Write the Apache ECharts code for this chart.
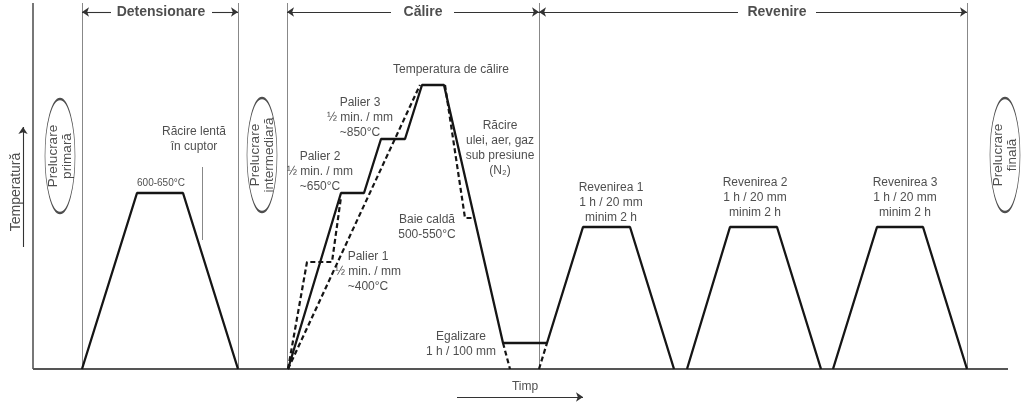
<!DOCTYPE html>
<html>
<head>
<meta charset="utf-8">
<script src="https://cdn.jsdelivr.net/npm/echarts@6/dist/echarts.min.js"></script>
<style>html,body{margin:0;padding:0;background:#fff;}#c{width:1024px;height:402px;}</style>
</head>
<body>
<div id="c"></div>
<script>
// Time (x) and temperature above the time axis (y).
const phaseBoundaries = [33, 82, 238, 287, 539, 967];
const boundaryTop = 366;
const axisEnd = 1008;

const detensionareCurve = [[82,0],[137,176],[183,176],[238,0]];
const calireRevenire1Curve = [[288,0],[341,176],[364,176],[381,230],[405,230],[422,284],[444,284],[503,26],[547,26],[583,142],[630,142],[674,0]];
const revenire2Curve = [[687,0],[730,142],[777,142],[821,0]];
const revenire3Curve = [[833,0],[877,142],[923,142],[967,0]];

const dashStepped = [[288,0],[307,107],[332,107],[341,172]];
const dashStraight = [[288,0],[420,284]];
const dashQuench = [[445,284],[465,151],[475,151]];
const dashEgal1 = [[503,26],[510,0]];
const dashEgal2 = [[539,0],[547,26]];

const coolingPointer = [[202,202],[202,129]];

const headers = [
  {name:'Detensionare', x:161, left:[111,82], right:[212,238]},
  {name:'Călire', x:423, left:[391,287], right:[454,539]},
  {name:'Revenire', x:777, left:[738,539], right:[816,967]}
];
const headerY = 357;

const labels = [
  ['600-650°C', 161, 186, 10],
  ['Răcire lentă\nîn cuptor', 194, 230, 12],
  ['Temperatura de călire', 451, 299, 12],
  ['Palier 3\n½ min. / mm\n~850°C', 360, 251, 12],
  ['Palier 2\n½ min. / mm\n~650°C', 320, 197, 12],
  ['Palier 1\n½ min. / mm\n~400°C', 368, 97, 12],
  ['Răcire\nulei, aer, gaz\nsub presiune\n(N₂)', 500, 221, 12],
  ['Baie caldă\n500-550°C', 427, 142, 12],
  ['Egalizare\n1 h / 100 mm', 461, 25, 12],
  ['Revenirea 1\n1 h / 20 mm\nminim 2 h', 611, 166, 12],
  ['Revenirea 2\n1 h / 20 mm\nminim 2 h', 755, 171, 12],
  ['Revenirea 3\n1 h / 20 mm\nminim 2 h', 905, 171, 12],
  ['Timp', 525, -18, 12]
];

const ellipses = [
  ['Prelucrare\nprimară', 60, 213],
  ['Prelucrare\nintermediară', 262, 214],
  ['Prelucrare\nfinală', 1005, 214]
];

const yAxisTitle = ['Temperatură', 16, 177];
const yArrow = [[23,122],[23,242]];
const xArrow = [[457,-28],[583,-28]];

const FONT = "'Liberation Sans', Arial, sans-serif";

const chart = echarts.init(document.getElementById('c'), null, {renderer:'canvas'});

const series = [];

// Phase boundary verticals and baseline
series.push({
  type:'lines', coordinateSystem:'cartesian2d', silent:true, symbol:'none',
  lineStyle:{color:'#555', width:1.6, curveness:0, opacity:1},
  data:[{coords:[[phaseBoundaries[0],0],[phaseBoundaries[0],boundaryTop]]},
        {coords:[[phaseBoundaries[0],0],[axisEnd,0]], lineStyle:{width:2, color:'#555'}}]
});
series.push({
  type:'lines', coordinateSystem:'cartesian2d', silent:true, symbol:'none',
  lineStyle:{color:'#888', width:1, curveness:0, opacity:1},
  data: phaseBoundaries.slice(1).map(x => ({coords:[[x,0],[x,boundaryTop]]}))
    .concat([{coords:coolingPointer}])
});

// Header arrows and axis arrows
const arrowData = [];
headers.forEach(h => {
  arrowData.push({coords:[[h.left[0],headerY],[h.left[1],headerY]]});
  arrowData.push({coords:[[h.right[0],headerY],[h.right[1],headerY]]});
});
arrowData.push({coords:yArrow});
arrowData.push({coords:xArrow});
series.push({
  type:'lines', coordinateSystem:'cartesian2d', silent:true,
  symbol:['none','arrow'], symbolSize:[5,7],
  lineStyle:{color:'#333', width:1.1, curveness:0, opacity:1},
  data: arrowData
});

// Solid curves
[detensionareCurve, calireRevenire1Curve, revenire2Curve, revenire3Curve].forEach(d => {
  series.push({type:'line', data:d, symbol:'none', silent:true, animation:false,
    lineStyle:{color:'#151515', width:2.3}, z:5});
});
// Dashed curves
[dashStepped, dashStraight, dashQuench, dashEgal1, dashEgal2].forEach(d => {
  series.push({type:'line', data:d, symbol:'none', silent:true, animation:false,
    lineStyle:{color:'#151515', width:2.2, type:[5,3]}, z:5});
});

// Ellipses
series.push({
  type:'scatter', silent:true, symbol:'circle', symbolSize:[30,114],
  itemStyle:{color:'rgba(255,255,255,0)', borderColor:'#222', borderWidth:1.2},
  label:{show:true, position:'inside', rotate:90, formatter:p=>p.data.name,
    fontFamily:FONT, fontSize:13.5, lineHeight:14, color:'#222'},
  data: ellipses.map(e => ({name:e[0], value:[e[1],e[2]]})),
  z:6
});

// Text labels
series.push({
  type:'scatter', silent:true, symbolSize:0,
  label:{show:true, position:'inside', formatter:p=>p.data.name,
    fontFamily:FONT, color:'#222', lineHeight:15},
  data: labels.map(l => ({name:l[0], value:[l[1],l[2]], label:{fontSize:l[3]}})),
  z:7
});
series.push({
  type:'scatter', silent:true, symbolSize:0,
  label:{show:true, position:'inside', formatter:p=>p.data.name,
    fontFamily:FONT, color:'#222', fontWeight:'bold', fontSize:14},
  data: headers.map(h => ({name:h.name, value:[h.x, headerY]})),
  z:7
});
series.push({
  type:'scatter', silent:true, symbolSize:0,
  label:{show:true, position:'inside', rotate:90, formatter:p=>p.data.name,
    fontFamily:FONT, color:'#222', fontSize:14},
  data: [{name:yAxisTitle[0], value:[yAxisTitle[1], yAxisTitle[2]]}],
  z:7
});

chart.setOption({
  animation:false,
  backgroundColor:'#fff',
  grid:{left:0, right:0, top:0, bottom:0},
  xAxis:{type:'value', min:0, max:1024, show:false},
  yAxis:{type:'value', min:-33, max:369, show:false},
  series: series
});
</script>
</body>
</html>
